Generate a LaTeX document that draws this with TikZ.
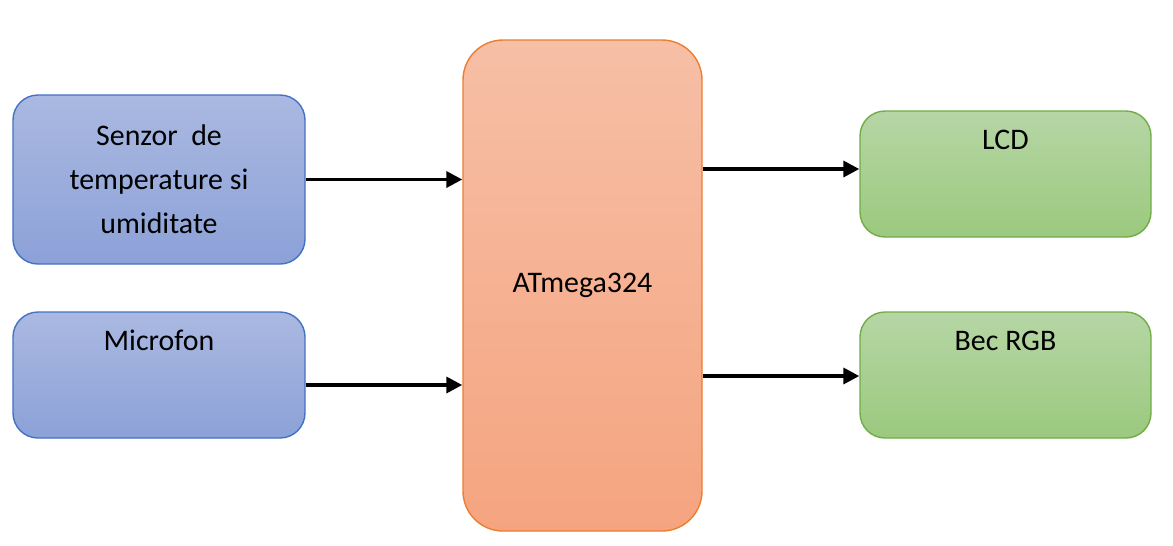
\documentclass[tikz,border=0pt]{standalone}
\usepackage{fontspec}
\setmainfont{Carlito}
\usetikzlibrary{positioning,arrows.meta}
\definecolor{blueTop}{HTML}{AAB9E1}
\definecolor{blueBot}{HTML}{8CA1D8}
\definecolor{blueLine}{HTML}{4472C4}
\definecolor{orTop}{HTML}{F6BFA6}
\definecolor{orBot}{HTML}{F5A47F}
\definecolor{orLine}{HTML}{ED7D31}
\definecolor{grTop}{HTML}{B6D6A5}
\definecolor{grBot}{HTML}{9BC97E}
\definecolor{grLine}{HTML}{70AD47}
\tikzset{
  blok/.style={rounded corners=0.5cm, line width=0.8pt, align=center,
    font=\fontsize{17}{25}\selectfont},
  inbox/.style={blok, draw=blueLine, top color=blueTop, bottom color=blueBot,
    minimum width=5.84cm},
  outbox/.style={blok, draw=grLine, top color=grTop, bottom color=grBot,
    minimum width=5.82cm, minimum height=2.52cm},
  link/.style={line width=2pt, -{Triangle[length=9pt,width=9pt]}}
}
\begin{document}
\begin{tikzpicture}
    \useasboundingbox (0,0) rectangle (23.46,-10.9);
    % ---inputs
    \node[inbox, minimum height=3.38cm] (senzor) at (3.18,-3.59)
        {Senzor\ \ de\\temperature si\\umiditate};
    \node[inbox, minimum height=2.52cm] (micro) at (3.18,-7.5) {Microfon\\[0.5cm]};
    % ---controller
    \node[blok, rounded corners=0.8cm, draw=orLine, top color=orTop, bottom color=orBot,
        minimum width=4.78cm, minimum height=9.82cm] (atmega) at (11.65,-5.71) {ATmega324};
    % ---outputs
    \node[outbox] (lcd) at (20.11,-3.48) {LCD\\[0.5cm]};
    \node[outbox] (bec) at (20.11,-7.5) {Bec RGB\\[0.5cm]};
    % ---links
    \draw[link] (senzor.east) ++(0,0) -- (senzor.east -| atmega.west);
    \draw[link] ([yshift=-0.2cm]micro.center -| micro.east) -- ([yshift=-0.2cm]micro.center -| atmega.west);
    \draw[link] ([yshift=0.1cm]lcd.center -| atmega.east) -- ([yshift=0.1cm]lcd.west);
    \draw[link] ([yshift=-0.02cm]bec.center -| atmega.east) -- ([yshift=-0.02cm]bec.west);
\end{tikzpicture}
\end{document}
